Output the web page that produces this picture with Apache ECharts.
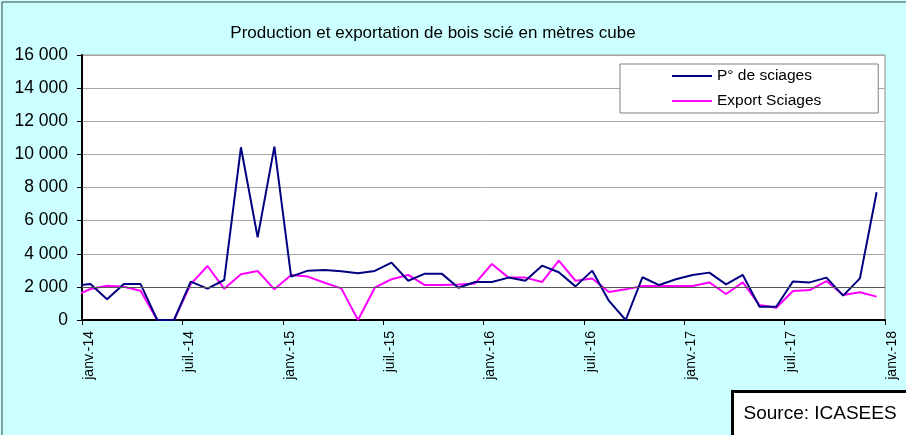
<!DOCTYPE html>
<html lang="fr">
<head>
    <meta charset="UTF-8">
    <title>Production et exportation de bois scié</title>
    <style>
        html, body { margin: 0; padding: 0; background: #ccffff; }
        #chart { width: 906px; height: 435px; }
    </style>
</head>
<body>
    <div id="chart"></div>
</body>
<script src="https://cdn.jsdelivr.net/npm/echarts@6/dist/echarts.min.js"></script>
<script type="text/javascript">
    // données mensuelles, la 1re valeur (déc.-13) est coupée par l'axe
    const tickLabels = ['janv.-14', 'juil.-14', 'janv.-15', 'juil.-15', 'janv.-16',
        'juil.-16', 'janv.-17', 'juil.-17', 'janv.-18'];

    const production = [2060,
        2170, 1250, 2170, 2170, 0, 0, 2315, 1890, 2415, 10430, 4990, 10470,
        2620, 2980, 3020, 2950, 2820, 2960, 3460, 2370, 2800, 2800, 1950, 2290,
        2290, 2560, 2370, 3280, 2880, 2030, 2980, 1150, 0, 2580, 2110, 2460,
        2720, 2860, 2150, 2720, 800, 800, 2330, 2270, 2560, 1470, 2510, 7710];

    const exportSciages = [1430,
        1870, 2070, 2010, 1770, 0, 0, 2170, 3260, 1890, 2760, 2960, 1850,
        2720, 2620, 2250, 1910, 0, 1950, 2460, 2720, 2110, 2110, 2150, 2210,
        3380, 2560, 2560, 2290, 3580, 2370, 2510, 1690, 1850, 2050, 2050, 2050,
        2050, 2270, 1570, 2270, 900, 740, 1750, 1810, 2350, 1510, 1670, 1410];

    // point au milieu du mois
    const toPoints = arr => arr.map((v, i) => [i - 0.5, v]);

    const fmtNum = v => String(v).replace(/\B(?=(\d{3})+(?!\d))/g, ' ');

    let chart = echarts.init(document.getElementById('chart'));
    let option = {
        backgroundColor: '#ccffff',
        animation: false,
        textStyle: { fontFamily: 'Liberation Sans, Arial, sans-serif', color: '#000' },
        title: {
            text: 'Production et exportation de bois scié en mètres cube',
            left: 428,
            top: 20,
            textAlign: 'center',
            textStyle: { fontSize: 17, fontWeight: 'normal', color: '#000' }
        },
        legend: {
            orient: 'vertical',
            left: 620,
            top: 64,
            padding: [4, 57, 4, 52],
            icon: 'rect',
            itemWidth: 40,
            itemHeight: 2,
            itemGap: 9,
            backgroundColor: '#fff',
            borderColor: '#808080',
            borderWidth: 1,
            textStyle: { fontSize: 15.5, color: '#000' }
        },
        grid: {
            left: 82,
            right: 21,
            top: 55,
            bottom: 115,
            show: true,
            backgroundColor: '#fff',
            borderColor: '#909090',
            borderWidth: 1
        },
        xAxis: {
            type: 'value',
            min: 0,
            max: 48,
            interval: 6,
            axisLine: { lineStyle: { color: '#000', width: 2 } },
            axisTick: { show: true, length: 5, lineStyle: { color: '#000' } },
            splitLine: { show: false },
            axisLabel: {
                rotate: 90,
                fontSize: 14,
                color: '#000',
                margin: 11,
                verticalAlign: 'top',
                formatter: v => tickLabels[v / 6] || ''
            }
        },
        yAxis: {
            type: 'value',
            min: 0,
            max: 16000,
            interval: 2000,
            axisLine: { show: true, lineStyle: { color: '#000', width: 2 } },
            axisTick: { show: true, length: 5, lineStyle: { color: '#000' } },
            splitLine: { lineStyle: { color: '#a6a6a6' } },
            axisLabel: {
                fontSize: 17.5,
                color: '#000',
                margin: 14,
                formatter: fmtNum
            }
        },
        series: [{
            name: 'P° de sciages',
            type: 'line',
            data: toPoints(production),
            symbol: 'none',
            clip: true,
            lineStyle: { color: '#000080', width: 2 },
            itemStyle: { color: '#000080' },
            z: 3,
            markLine: {
                silent: true,
                symbol: 'none',
                label: { show: false },
                lineStyle: { color: '#555', width: 1, type: 'solid' },
                data: [{ yAxis: 2000 }]
            }
        }, {
            name: 'Export Sciages',
            type: 'line',
            data: toPoints(exportSciages),
            symbol: 'none',
            clip: true,
            lineStyle: { color: '#ff00ff', width: 2 },
            itemStyle: { color: '#ff00ff' },
            z: 2
        }],
        graphic: [{
            type: 'rect',
            shape: { x: 2, y: 2, width: 920, height: 450 },
            style: { fill: 'none', stroke: '#404040', lineWidth: 1 },
            silent: true
        }, {
            type: 'group',
            left: 731,
            top: 390,
            children: [{
                type: 'rect',
                shape: { x: 0, y: 0, width: 190, height: 50 },
                style: { fill: '#fff', stroke: '#000', lineWidth: 3 }
            }, {
                type: 'text',
                x: 11,
                y: 22,
                style: {
                    text: 'Source: ICASEES',
                    font: '19px Liberation Sans, sans-serif',
                    fill: '#000',
                    verticalAlign: 'middle'
                }
            }]
        }]
    };
    chart.setOption(option);
</script>
</html>
